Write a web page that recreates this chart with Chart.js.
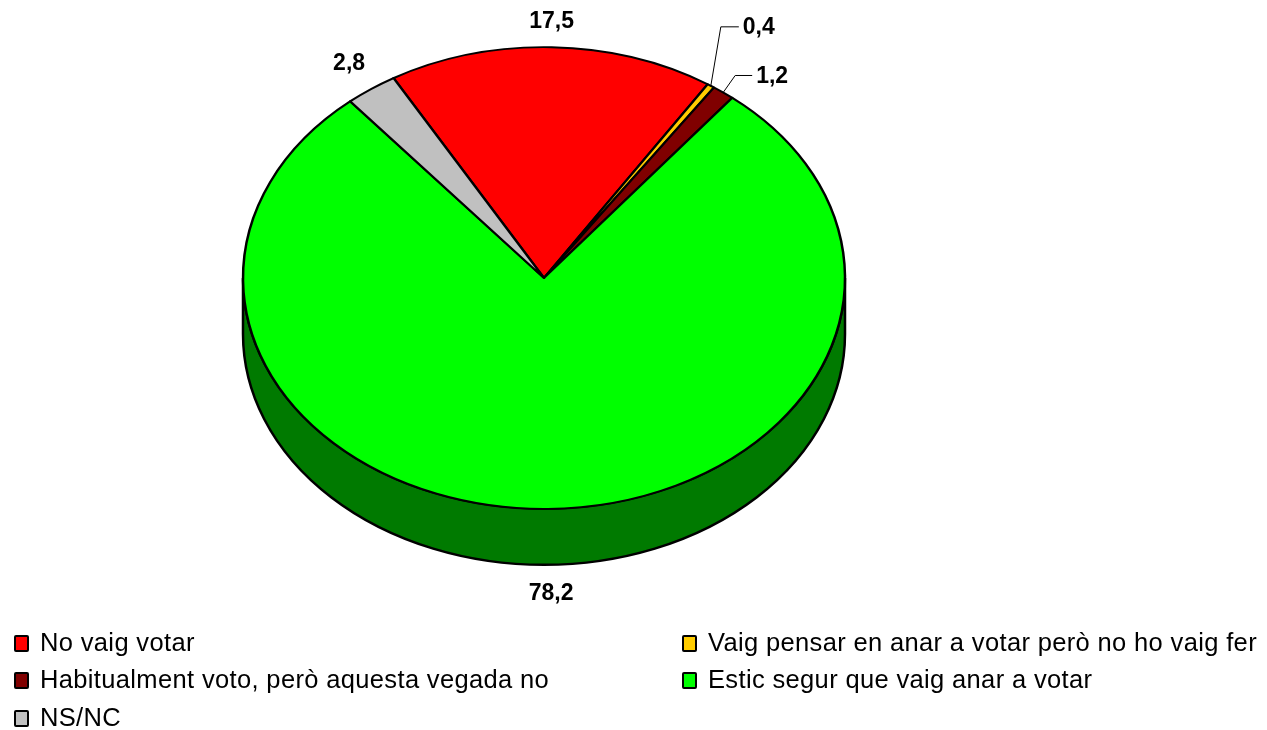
<!DOCTYPE html>
<html>
<head>
<meta charset="utf-8">
<style>
  html, body { margin: 0; padding: 0; background: #fff; overflow: hidden; }
  #wrap { position: relative; width: 1267px; height: 730px; }
  #legend { position: absolute; left: 0; top: 0; font: 25.5px "Liberation Sans", Arial, sans-serif; letter-spacing: 0.35px; color: #000; }
  .item { position: absolute; white-space: nowrap; line-height: 28px; }
  .item i { position: absolute; left: -26px; top: 7px; width: 11px; height: 13px; border: 2px solid #000; border-radius: 2px; }
</style>
</head>
<body>
<div id="wrap">
  <canvas id="pie" width="1267" height="730"></canvas>
  <div id="legend"></div>
</div>
<script src="https://cdn.jsdelivr.net/npm/chart.js@4"></script>
<script>
let categories = ['No vaig votar', 'Vaig pensar en anar a votar però no ho vaig fer', 'Habitualment voto, però aquesta vegada no', 'Estic segur que vaig anar a votar', 'NS/NC']
let values = [17.5, 0.4, 1.2, 78.2, 2.8]
let valueLabels = ['17,5', '0,4', '1,2', '78,2', '2,8']
let colors = ['#FF0000', '#FFCC00', '#800000', '#00FF00', '#C0C0C0']
let sideColors = ['#800000', '#806600', '#400000', '#007A00', '#606060']

const squash = 0.767   // how flat the top of the pie is
const depth = 56       // height of the side wall
const labelDist = 336

// legend boxes, two columns
const legendPos = [[40, 628], [708, 628], [40, 665], [708, 665], [40, 703]]
const legend = document.getElementById('legend')
categories.forEach((c, i) => {
    let d = document.createElement('div')
    d.className = 'item'
    d.style.left = legendPos[i][0] + 'px'
    d.style.top = legendPos[i][1] + 'px'
    d.innerHTML = '<i style="background:' + colors[i] + '"></i>' + c
    legend.appendChild(d)
})

// leader lines for the thin slices: knee and end of the line, from the slice edge
const leaders = { 1: { knee: [10, -59], len: 18 }, 2: { knee: [12, -17], len: 17 } }
// small label corrections
const labelNudge = { 3: [3, 2], 4: [-2, -3] }

const pie3d = {
    id: 'pie3d',
    beforeDatasetsDraw(chart) {
        let ctx = chart.ctx
        let arcs = chart.getDatasetMeta(0).data

        // side wall, only the part of each slice facing the viewer
        arcs.forEach((arc, i) => {
            let a = arc.startAngle, b = arc.endAngle
            let parts = [[a, b], [a + Math.PI * 2, b + Math.PI * 2], [a - Math.PI * 2, b - Math.PI * 2]]
            parts.forEach(p => {
                let s = Math.max(p[0], 0), e = Math.min(p[1], Math.PI)
                if (e <= s) return
                let ry = arc.outerRadius * squash
                ctx.beginPath()
                ctx.ellipse(arc.x, arc.y, arc.outerRadius, ry, 0, s, e)
                ctx.ellipse(arc.x, arc.y + depth, arc.outerRadius, ry, 0, e, s, true)
                ctx.closePath()
                ctx.fillStyle = sideColors[i]
                ctx.fill()
                ctx.lineWidth = 2.5
                ctx.strokeStyle = '#000'
                ctx.stroke()
            })
        })

        ctx.save()
        let c = arcs[0]
        ctx.translate(c.x, c.y)
        ctx.scale(1, squash)
        ctx.translate(-c.x, -c.y)
    },
    afterDatasetsDraw(chart) {
        let ctx = chart.ctx
        ctx.restore()

        ctx.font = 'bold 23px "Liberation Sans", Arial, sans-serif'
        ctx.fillStyle = '#000'
        ctx.textBaseline = 'middle'
        chart.getDatasetMeta(0).data.forEach((arc, i) => {
            let mid = (arc.startAngle + arc.endAngle) / 2
            if (leaders[i]) {
                let x0 = arc.x + Math.cos(mid) * arc.outerRadius
                let y0 = arc.y + Math.sin(mid) * arc.outerRadius * squash
                let kx = x0 + leaders[i].knee[0], ky = y0 + leaders[i].knee[1]
                ctx.beginPath()
                ctx.moveTo(x0, y0)
                ctx.lineTo(kx, ky)
                ctx.lineTo(kx + leaders[i].len, ky)
                ctx.lineWidth = 1
                ctx.strokeStyle = '#000'
                ctx.stroke()
                ctx.textAlign = 'left'
                ctx.fillText(valueLabels[i], kx + leaders[i].len + 4, ky + 1)
                return
            }
            let nudge = labelNudge[i] || [-1, 1]
            let x = arc.x + Math.cos(mid) * labelDist + nudge[0]
            let y = arc.y + Math.sin(mid) * labelDist * squash + nudge[1]
            if (Math.sin(mid) > 0) y += depth
            ctx.textAlign = 'center'
            ctx.fillText(valueLabels[i], x, y)
        })
    }
}

const myChart = new Chart(document.getElementById('pie').getContext('2d'), {
    type: 'pie',
    data: {
        labels: categories,
        datasets: [{
            data: values,
            backgroundColor: colors,
            borderColor: '#000',
            borderWidth: 2.5,
            borderJoinStyle: 'round'
        }]
    },
    options: {
        responsive: false,
        animation: false,
        rotation: -30,
        radius: 301,
        layout: { padding: { right: 179, bottom: 174 } },
        plugins: {
            legend: { display: false },
            tooltip: { enabled: false }
        }
    },
    plugins: [pie3d]
})
</script>
</body>
</html>
